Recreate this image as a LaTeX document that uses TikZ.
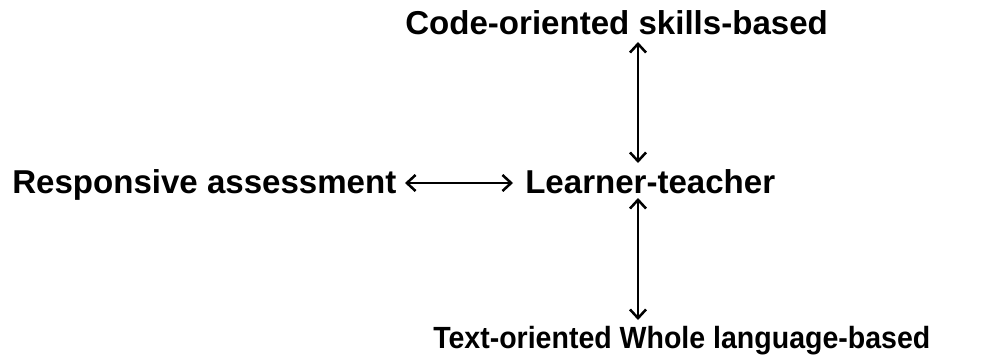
\documentclass[tikz,border=0pt]{standalone}
\usepackage{fontspec}
\setmainfont{Liberation Sans}
\usetikzlibrary{arrows.meta}
\tikzset{
  lbl/.style={inner sep=0pt, anchor=base west, font=\bfseries\fontsize{24.8pt}{28pt}\selectfont},
  lblsmall/.style={inner sep=0pt, anchor=base west, font=\bfseries\fontsize{23pt}{26pt}\selectfont},
  link/.style={line width=1.9pt, {Straight Barb[length=6.5pt,width=12pt,line width=1.9pt]}-{Straight Barb[length=6.5pt,width=12pt,line width=1.9pt]}}
}
\begin{document}
\begin{tikzpicture}[x=0.75pt,y=-0.75pt]
\useasboundingbox (0,0) rectangle (1005,356);
\node[lbl] (top) at (405,35) {Code-oriented skills-based};
\node[lbl] (left) at (12,193) {Responsive assessment};
\node[lbl] (center) at (525,193) {Learner-teacher};
\node[lblsmall] (bottom) at (433,348) {\scalebox{0.93}[1]{Text-oriented Whole language-based}};
\coordinate (h1) at (405,183);
\coordinate (h2) at (513,183);
\coordinate (v1) at (638,42);
\coordinate (v2) at (638,163);
\coordinate (v3) at (638,198);
\coordinate (v4) at (638,320);
\draw[link] (h1) -- (h2);
\draw[link] (v1) -- (v2);
\draw[link] (v3) -- (v4);
\end{tikzpicture}
\end{document}
